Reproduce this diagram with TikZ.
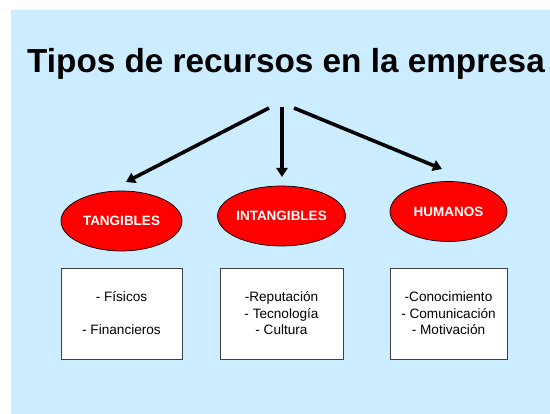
\documentclass[tikz,border=0pt]{standalone}
\usepackage{fontspec}
\setmainfont{Liberation Sans}
\usetikzlibrary{arrows.meta,shapes.geometric}
\definecolor{bgblue}{RGB}{204,236,255}
\definecolor{boxborder}{RGB}{64,64,64}
\begin{document}
\begin{tikzpicture}[x=1pt,y=-1pt,
  oval/.style={ellipse, draw=black, line width=0.7pt, fill=red, minimum width=121pt, minimum height=60pt, inner sep=0pt, text=white, font=\fontsize{13.5}{16}\selectfont\bfseries},
  itembox/.style={draw=boxborder, line width=0.8pt, fill=white, minimum width=121pt, minimum height=91pt, inner sep=0pt, align=center, font=\fontsize{13.6}{16.5}\selectfont},
  arr/.style={line width=3.6pt, -{Triangle[width=11pt,length=9pt]}}]
\useasboundingbox (0,0) rectangle (550,414);
\fill[white] (0,0) rectangle (550,414);
\fill[bgblue] (11,10) rectangle (550,414);
\node[font=\fontsize{33.3}{38}\selectfont\bfseries, anchor=base] (title) at (286,73) {Tipos de recursos en la empresa};
\coordinate (s1) at (269,108);
\coordinate (s2) at (282,107);
\coordinate (s3) at (294,108);
\node[oval] (t) at (121.5,221) {TANGIBLES};
\node[oval] (i) at (281.5,216) {INTANGIBLES};
\node[oval, minimum width=117pt] (h) at (448.5,211.5) {HUMANOS};
\coordinate (e1) at (126,182);
\coordinate (e2) at (282,177);
\coordinate (e3) at (442,169);
\draw[arr] (s1) -- (e1);
\draw[arr] (s2) -- (e2);
\draw[arr] (s3) -- (e3);
\node[itembox] (bt) at (121.5,313.5) {- Físicos\\[16.5pt]- Financieros};
\node[itembox, minimum width=123pt] (bi) at (281.5,313.5) {-Reputación\\- Tecnología\\- Cultura};
\node[itembox, minimum width=117pt] (bh) at (448.5,313.5) {-Conocimiento\\- Comunicación\\- Motivación};
\end{tikzpicture}
\end{document}
